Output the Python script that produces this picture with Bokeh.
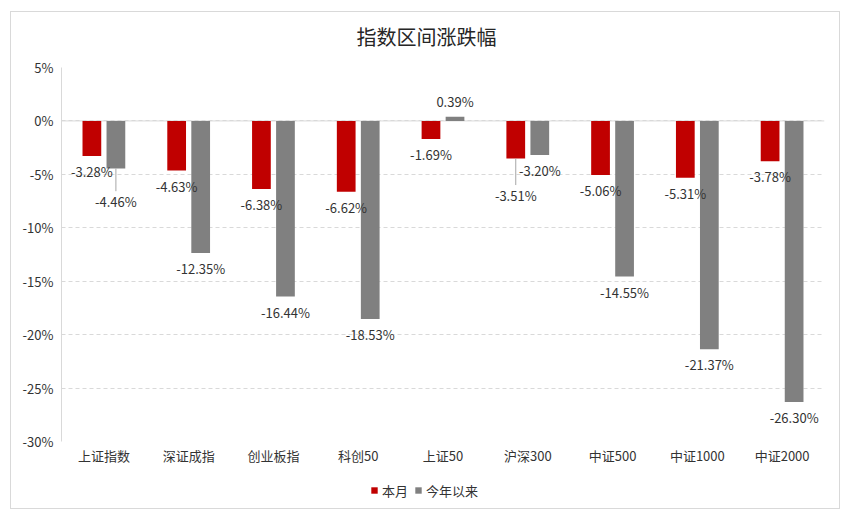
from bokeh.plotting import figure
from bokeh.layouts import column
from bokeh.models import (ColumnDataSource, FactorRange, Range1d, FixedTicker,
                          PrintfTickFormatter, Span, Legend, LegendItem, Label)
from bokeh.transform import dodge
from bokeh.core.properties import value
from bokeh.embed import file_html
from bokeh.resources import INLINE

# ---- data ----
title_text = "指数区间涨跌幅"
categories = ["上证指数", "深证成指", "创业板指", "科创50", "上证50",
              "沪深300", "中证500", "中证1000", "中证2000"]
month_chg = [-3.28, -4.63, -6.38, -6.62, -1.69, -3.51, -5.06, -5.31, -3.78]
ytd_chg = [-4.46, -12.35, -16.44, -18.53, 0.39, -3.20, -14.55, -21.37, -26.30]
y_ticks = [-30, -25, -20, -15, -10, -5, 0, 5]
series_names = ["本月", "今年以来"]

# ---- style ----
FONT = "Noto Sans CJK SC"
RED = "#C00000"
GRAY = "#808080"
GRID = "#d9d9d9"
TXT = "#333333"
W = 828
BL, BR, BT, BB = 50, 15, 10, 30
FRAME_W = W - BL - BR
FRAME_H = 374
H_TOP = 45
H_MAIN = BT + FRAME_H + BB
H_LEG = 37
Y0, Y1 = -30, 5
PX_PER_UNIT = FRAME_H / (Y1 - Y0)
BAR_W = 0.221
OFF = 0.1417
LABEL_GAP = 15.6
TITLE_CX = 365      # title centre, px from the frame's left edge
LEGEND_X = 309      # legend left, px from the frame's left edge
# extra downward shifts (px) for labels moved off their bars (with leader lines)
month_extra = [0, 0, 0, 0, 0, 21, 0, 0, 0]
ytd_extra = [17, 0, 0, 0, 0, 0, 0, 0, 0]


def label_rows(vals, extra):
    txt, yoff, lead_y1, has_lead = [], [], [], []
    for v, e in zip(vals, extra):
        txt.append(f"{v:.2f}%")
        if v >= 0:
            yoff.append(-(LABEL_GAP + e))
        else:
            yoff.append(LABEL_GAP + e)
        lead_y1.append(v - (LABEL_GAP + e - 10) / PX_PER_UNIT if e else v)
        has_lead.append(e > 0)
    return txt, yoff, lead_y1, has_lead


m_txt, m_yoff, m_ly1, m_lead = label_rows(month_chg, month_extra)
t_txt, t_yoff, t_ly1, t_lead = label_rows(ytd_chg, ytd_extra)

src = ColumnDataSource(dict(cat=categories, m=month_chg, t=ytd_chg,
                            m_txt=m_txt, t_txt=t_txt,
                            m_yoff=m_yoff, t_yoff=t_yoff))

lead_m = ColumnDataSource(dict(
    cat=[c for c, f in zip(categories, m_lead) if f],
    y0=[v for v, f in zip(month_chg, m_lead) if f],
    y1=[v for v, f in zip(m_ly1, m_lead) if f]))
lead_t = ColumnDataSource(dict(
    cat=[c for c, f in zip(categories, t_lead) if f],
    y0=[v for v, f in zip(ytd_chg, t_lead) if f],
    y1=[v for v, f in zip(t_ly1, t_lead) if f]))


def strip(height):
    f = figure(width=W, height=height, x_range=Range1d(0, 1), y_range=Range1d(0, 1),
               x_axis_location=None, y_axis_location=None,
               min_border_left=BL, min_border_right=BR,
               min_border_top=0, min_border_bottom=0,
               output_backend="svg", toolbar_location=None)
    f.grid.visible = False
    f.outline_line_color = None
    f.background_fill_color = "white"
    f.border_fill_color = "white"
    return f


# ---- title strip ----
t = strip(H_TOP)
t.add_layout(Label(x=TITLE_CX / FRAME_W, y=1 - 24 / H_TOP, text=title_text,
                   text_align="center", text_baseline="middle", text_font=FONT,
                   text_font_size="20px", text_color="#262626"))

# ---- main chart ----
p = figure(x_range=FactorRange(*categories, range_padding=0),
           y_range=Range1d(Y0, Y1),
           width=W, height=H_MAIN,
           min_border_left=BL, min_border_right=BR,
           min_border_top=BT, min_border_bottom=BB,
           output_backend="svg", toolbar_location=None)
p.outline_line_color = None
p.background_fill_color = "white"
p.border_fill_color = "white"

# grid
p.xgrid.grid_line_color = None
p.ygrid.grid_line_color = GRID
p.ygrid.grid_line_dash = "4 3"
p.ygrid.ticker = FixedTicker(ticks=y_ticks)

zero = Span(location=0, dimension="width", line_color=GRID, line_width=1,
            level="underlay")
p.add_layout(zero)

# axes
p.yaxis.ticker = FixedTicker(ticks=y_ticks)
p.yaxis.formatter = PrintfTickFormatter(format="%d%%")
p.yaxis.axis_line_color = GRID
p.yaxis.major_tick_line_color = None
p.yaxis.minor_tick_line_color = None
p.yaxis.major_tick_in = 0
p.yaxis.major_tick_out = 0
p.yaxis.major_label_standoff = 8
p.yaxis.major_label_text_font = FONT
p.yaxis.major_label_text_font_size = "13px"
p.yaxis.major_label_text_color = TXT

p.xaxis.axis_line_color = None
p.xaxis.major_tick_line_color = None
p.xaxis.major_tick_in = 0
p.xaxis.major_tick_out = 0
p.xaxis.major_label_standoff = 4
p.xaxis.major_label_text_font = FONT
p.xaxis.major_label_text_font_size = "13px"
p.xaxis.major_label_text_color = TXT

# bars
r1 = p.vbar(x=dodge("cat", -OFF, range=p.x_range), top="m", bottom=0,
            width=BAR_W, source=src, fill_color=RED, line_color=None)
r2 = p.vbar(x=dodge("cat", OFF, range=p.x_range), top="t", bottom=0,
            width=BAR_W, source=src, fill_color=GRAY, line_color=None)

# leader lines
p.segment(x0=dodge("cat", -OFF, range=p.x_range), x1=dodge("cat", -OFF, range=p.x_range),
          y0="y0", y1="y1", source=lead_m, line_color="#a6a6a6", line_width=1)
p.segment(x0=dodge("cat", OFF, range=p.x_range), x1=dodge("cat", OFF, range=p.x_range),
          y0="y0", y1="y1", source=lead_t, line_color="#a6a6a6", line_width=1)

# data labels
p.text(x=dodge("cat", -OFF, range=p.x_range), y="m", text="m_txt", y_offset="m_yoff",
       source=src, text_align="center", text_baseline="middle",
       text_font=value(FONT), text_font_size="13px", text_color=TXT)
p.text(x=dodge("cat", OFF, range=p.x_range), y="t", text="t_txt", y_offset="t_yoff",
       source=src, text_align="center", text_baseline="middle",
       text_font=value(FONT), text_font_size="13px", text_color=TXT)

# ---- legend strip below the chart ----
q = strip(H_LEG)
# zero-height proxies carrying the series colours for the legend swatches
lg1 = q.vbar(x=[0.5], top=[0], bottom=[0], width=0.01, fill_color=RED, line_color=None)
lg2 = q.vbar(x=[0.5], top=[0], bottom=[0], width=0.01, fill_color=GRAY, line_color=None)

legend = Legend(items=[LegendItem(label=series_names[0], renderers=[lg1]),
                       LegendItem(label=series_names[1], renderers=[lg2])],
                orientation="horizontal", location=(LEGEND_X, 8.5))
legend.border_line_color = None
legend.background_fill_alpha = 0
legend.label_text_font = FONT
legend.label_text_font_size = "13px"
legend.label_text_color = TXT
legend.label_height = 16
legend.glyph_width = 8
legend.glyph_height = 8
legend.label_standoff = 4
legend.spacing = 6
legend.padding = 2
legend.margin = 0
q.add_layout(legend, "center")

layout = column(t, p, q, spacing=0, margin=(12, 0, 0, 11),
                styles={"outline": "1px solid #d9d9d9", "background": "white"})

open("out.html", "w").write(file_html(layout, INLINE))
